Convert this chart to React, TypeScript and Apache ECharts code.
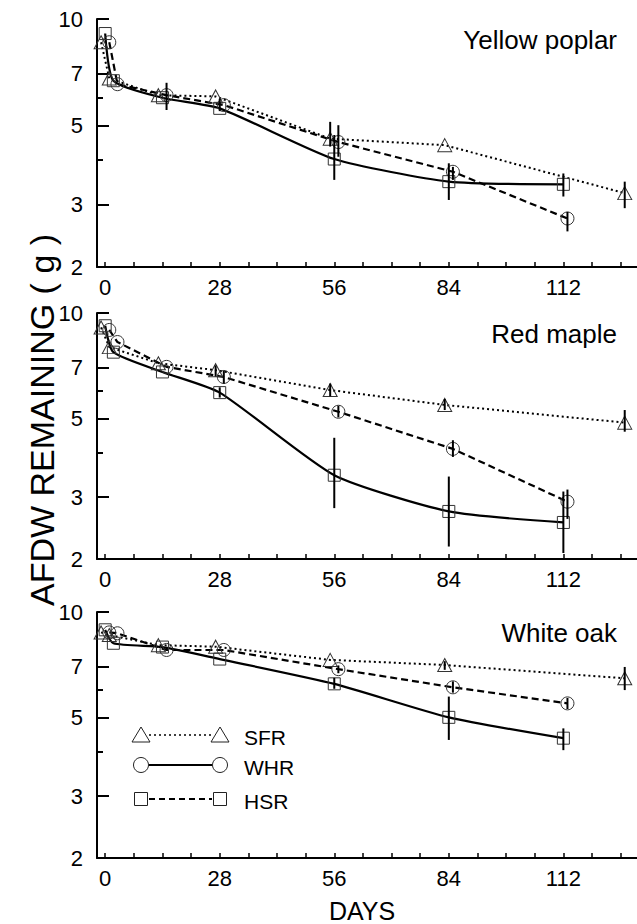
import React, { useEffect, useRef } from "react";
import * as echarts from "echarts";

// ---- data ----
const panelTitles = ["Yellow poplar", "Red maple", "White oak"];
const seriesNames = ["SFR", "WHR", "HSR"];
const sampleDays = [0, 2, 14, 28, 56, 84, 112];
const sfrDays = [0, 2, 14, 28, 56, 84, 128];
const dayTicks = [0, 7, 14, 21, 28, 35, 42, 49, 56, 63, 70, 77, 84, 91, 98, 105, 112, 119, 126];
const dayLabels = [0, 28, 56, 84, 112];
const yMajorTicks = [2, 3, 5, 7, 10];
const yMinorTicks = [4, 6];

// Yellow poplar
const ypSFR = [8.6, 6.8, 6.1, 6.05, 4.6, 4.41, 3.23];
const ypWHR = [8.6, 6.55, 6.1, 5.72, 4.5, 3.71, 2.74];
const ypHSR = [9.1, 6.7, 6.0, 5.6, 4.03, 3.48, 3.42];
const ypSFRerr = [null, null, null, null, [4.37, 5.13], null, [2.93, 3.48]];
const ypWHRerr = [null, null, [5.54, 6.61], null, [4.09, 5.02], [3.52, 3.83], [2.52, 2.86]];
const ypHSRerr = [null, null, null, [5.5, 5.95], [3.52, 4.71], [3.09, 3.92], [3.16, 3.67]];

// Red maple
const rmSFR = [9.1, 8.0, 7.2, 6.88, 6.04, 5.48, 4.88];
const rmWHR = [8.95, 8.27, 7.03, 6.58, 5.24, 4.11, 2.91];
const rmHSR = [9.2, 7.74, 6.8, 5.94, 3.46, 2.73, 2.54];
const rmSFRerr = [null, null, null, [6.6, 7.1], [5.8, 6.3], [5.3, 5.7], [4.6, 5.3]];
const rmWHRerr = [null, null, null, [6.3, 6.85], [5.05, 5.45], [3.9, 4.35], [2.6, 3.15]];
const rmHSRerr = [null, null, null, [5.75, 6.15], [2.79, 4.42], [2.17, 3.43], [2.08, 3.11]];

// White oak
const woSFR = [8.75, 8.6, 8.05, 7.97, 7.31, 7.07, 6.48];
const woWHR = [8.75, 8.7, 7.8, 7.8, 6.88, 6.11, 5.5];
const woHSR = [8.9, 8.15, 7.95, 7.35, 6.25, 5.02, 4.38];
const woSFRerr = [null, null, null, null, null, [6.85, 7.25], [6.0, 6.98]];
const woWHRerr = [null, null, null, null, [6.7, 7.05], [5.9, 6.35], [5.3, 5.7]];
const woHSRerr = [null, null, null, null, [6.05, 6.5], [4.33, 5.75], [4.05, 4.67]];

const panels = [
  { sfr: ypSFR, whr: ypWHR, hsr: ypHSR, sfrErr: ypSFRerr, whrErr: ypWHRerr, hsrErr: ypHSRerr },
  { sfr: rmSFR, whr: rmWHR, hsr: rmHSR, sfrErr: rmSFRerr, whrErr: rmWHRerr, hsrErr: rmHSRerr },
  { sfr: woSFR, whr: woWHR, hsr: woHSR, sfrErr: woSFRerr, whrErr: woWHRerr, hsrErr: woHSRerr },
];

// ---- layout / style ----
const FONT = "'Liberation Sans', Arial, Helvetica, sans-serif";
const gridTops = [19, 313, 612];
const gridHeights = [248, 246, 246];
const GRID_LEFT = 97;
const GRID_WIDTH = 542;
const DODGE = { SFR: -1, WHR: 1, HSR: 0 };

const seriesStyles = {
  SFR: {
    symbol: "triangle",
    symbolSize: [14, 13],
    line: { color: "#000", width: 2, type: [2, 3] },
    smooth: false,
  },
  WHR: {
    symbol: "circle",
    symbolSize: 13,
    line: { color: "#000", width: 2.2, type: [7, 4] },
    smooth: false,
  },
  HSR: {
    symbol: "rect",
    symbolSize: 12,
    line: { color: "#000", width: 2.2, type: "solid" },
    smooth: 0.2,
  },
};

function buildOption() {
  const grid: any[] = [];
  const xAxis: any[] = [];
  const yAxis: any[] = [];
  const series: any[] = [];
  const graphic: any[] = [];

  panels.forEach((p, i) => {
    grid.push({ left: GRID_LEFT, top: gridTops[i], width: GRID_WIDTH, height: gridHeights[i] });
    xAxis.push({
      gridIndex: i,
      type: "value",
      min: -2,
      max: 130,
      axisLine: { show: true, onZero: false, lineStyle: { color: "#000", width: 2 } },
      axisTick: { show: true, inside: true, length: 5, customValues: dayTicks, lineStyle: { color: "#000", width: 1.5 } },
      axisLabel: { show: true, customValues: dayLabels, fontSize: 22, color: "#000", fontFamily: FONT, margin: 9 },
      splitLine: { show: false },
    });
    // data axis (log scale)
    yAxis.push({
      gridIndex: i,
      type: "log",
      logBase: 10,
      min: 2,
      max: 10,
      position: "left",
      axisLine: { show: false },
      axisTick: { show: false },
      axisLabel: { show: false },
      splitLine: { show: false },
      minorTick: { show: false },
      minorSplitLine: { show: false },
    });
    // major ticks + labels (same log mapping expressed in log10 units)
    yAxis.push({
      gridIndex: i,
      type: "value",
      min: Math.log10(2),
      max: 1,
      position: "left",
      axisLine: { show: true, onZero: false, lineStyle: { color: "#000", width: 2 } },
      axisTick: {
        show: true,
        inside: true,
        length: 12,
        customValues: yMajorTicks.map((v) => Math.log10(v)),
        lineStyle: { color: "#000", width: 2 },
      },
      axisLabel: {
        show: true,
        customValues: yMajorTicks.map((v) => Math.log10(v)),
        formatter: (v: number) => String(Math.round(Math.pow(10, v))),
        fontSize: 22,
        color: "#000",
        fontFamily: FONT,
        margin: 14,
      },
      splitLine: { show: false },
    });
    // minor ticks
    yAxis.push({
      gridIndex: i,
      type: "value",
      min: Math.log10(2),
      max: 1,
      position: "left",
      axisLine: { show: false, onZero: false },
      axisTick: {
        show: true,
        inside: true,
        length: 6,
        customValues: yMinorTicks.map((v) => Math.log10(v)),
        lineStyle: { color: "#000", width: 2 },
      },
      axisLabel: { show: false },
      splitLine: { show: false },
    });

    const defs = [
      { name: "SFR", days: sfrDays, vals: p.sfr, err: p.sfrErr },
      { name: "WHR", days: sampleDays, vals: p.whr, err: p.whrErr },
      { name: "HSR", days: sampleDays, vals: p.hsr, err: p.hsrErr },
    ];
    defs.forEach((d) => {
      const st = (seriesStyles as any)[d.name];
      const dodge = (DODGE as any)[d.name];
      series.push({
        type: "line",
        name: d.name,
        xAxisIndex: i,
        yAxisIndex: i * 3,
        data: d.days.map((day, k) => [day + dodge, d.vals[k]]),
        symbol: st.symbol,
        symbolSize: st.symbolSize,
        showSymbol: true,
        smooth: st.smooth,
        lineStyle: st.line,
        itemStyle: { color: "rgba(255,255,255,0)", borderColor: "#333", borderWidth: 1 },
        z: 2,
      });
      const errData: any[] = [];
      d.err.forEach((e: any, k: number) => {
        if (e) errData.push([d.days[k] + dodge, e[0], e[1]]);
      });
      series.push({
        type: "custom",
        name: d.name + " error",
        xAxisIndex: i,
        yAxisIndex: i * 3,
        data: errData,
        encode: { x: 0, y: [1, 2] },
        renderItem: (params: any, api: any) => {
          const a = api.coord([api.value(0), api.value(1)]);
          const b = api.coord([api.value(0), api.value(2)]);
          return {
            type: "line",
            shape: { x1: a[0], y1: a[1], x2: b[0], y2: b[1] },
            style: { stroke: "#000", lineWidth: 2 },
          };
        },
        z: 3,
      });
    });

    graphic.push({
      type: "text",
      right: 20,
      top: gridTops[i] + 8,
      style: { text: panelTitles[i], font: `26px ${FONT}`, fill: "#000", textAlign: "right" },
    });
  });

  // y-axis name
  graphic.push({
    type: "text",
    x: 42,
    y: 420,
    rotation: Math.PI / 2,
    style: {
      text: "AFDW REMAINING ( g )",
      font: `34px ${FONT}`,
      fill: "#000",
      textAlign: "center",
      textVerticalAlign: "middle",
    },
  });
  // x-axis name
  graphic.push({
    type: "text",
    x: 362,
    y: 911,
    style: { text: "DAYS", font: `25px ${FONT}`, fill: "#000", textAlign: "center", textVerticalAlign: "middle" },
  });

  // legend (drawn)
  const legendRows = [
    { name: seriesNames[0], y: 735, dash: [2, 3] },
    { name: seriesNames[1], y: 765, dash: null },
    { name: seriesNames[2], y: 799, dash: [6, 4] },
  ];
  const lx1 = 141;
  const lx2 = 220;
  legendRows.forEach((r, idx) => {
    graphic.push({
      type: "line",
      shape: { x1: lx1 + 8, y1: r.y, x2: lx2 - 8, y2: r.y },
      style: { stroke: "#000", lineWidth: idx === 0 ? 1.5 : 2, lineDash: r.dash || undefined },
    });
    [lx1, lx2].forEach((cx) => {
      const markStyle = { fill: "rgba(255,255,255,0)", stroke: "#222", lineWidth: 1 };
      if (idx === 0) {
        graphic.push({
          type: "polygon",
          shape: { points: [[cx, r.y - 8], [cx + 9, r.y + 7], [cx - 9, r.y + 7]] },
          style: markStyle,
        });
      } else if (idx === 1) {
        graphic.push({ type: "circle", shape: { cx, cy: r.y, r: 7.5 }, style: markStyle });
      } else {
        graphic.push({ type: "rect", shape: { x: cx - 6.5, y: r.y - 6.5, width: 13, height: 13 }, style: markStyle });
      }
    });
    graphic.push({
      type: "text",
      x: 244,
      y: r.y + 2,
      style: { text: r.name, font: `21px ${FONT}`, fill: "#000", textVerticalAlign: "middle" },
    });
  });

  return {
    animation: false,
    backgroundColor: "#fff",
    textStyle: { fontFamily: FONT },
    grid,
    xAxis,
    yAxis,
    series,
    graphic,
  };
}

export default function App() {
  const ref = useRef<HTMLDivElement>(null);
  useEffect(() => {
    if (!ref.current) return;
    const chart = echarts.init(ref.current, undefined, { renderer: "svg" });
    chart.setOption(buildOption() as any);
    return () => chart.dispose();
  }, []);
  return (
    <div
      ref={ref}
      style={{ position: "absolute", left: 0, top: 0, width: 637, height: 924, background: "#fff" }}
    />
  );
}
